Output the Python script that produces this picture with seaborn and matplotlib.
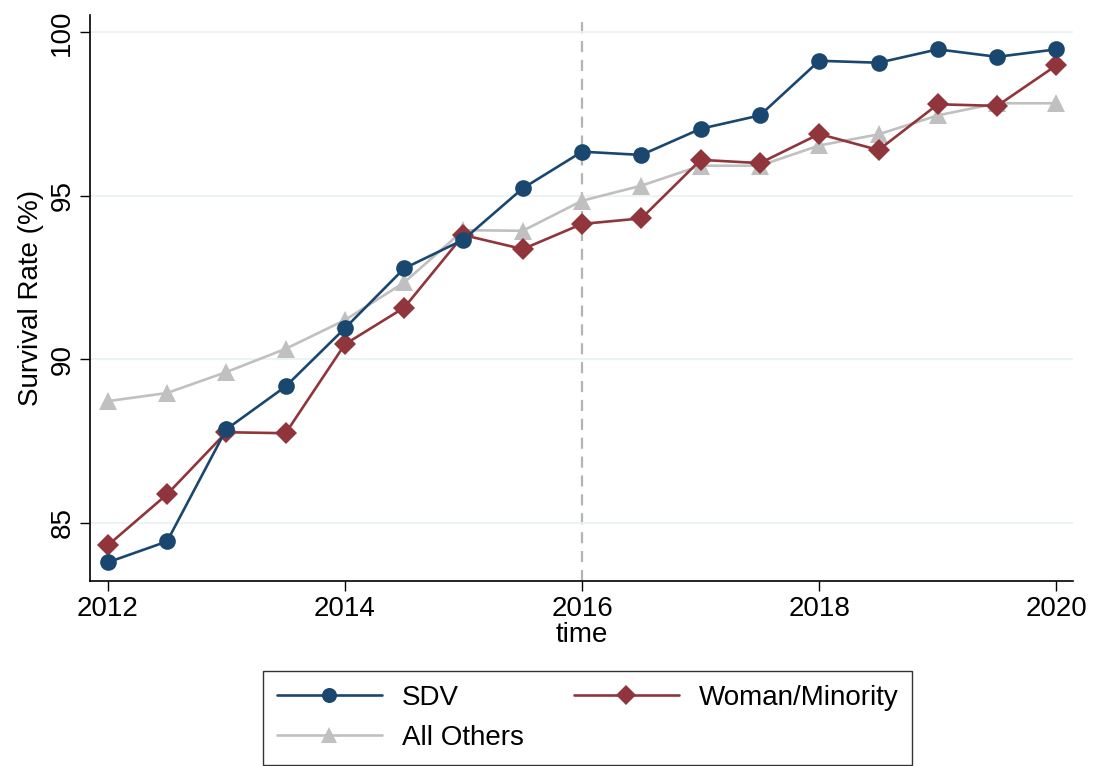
import numpy as np
import pandas as pd
import matplotlib
matplotlib.use("Agg")
import matplotlib.pyplot as plt
import seaborn as sns

# values
time = [2012, 2012.5, 2013, 2013.5, 2014, 2014.5, 2015, 2015.5, 2016,
        2016.5, 2017, 2017.5, 2018, 2018.5, 2019, 2019.5, 2020]
sdv = [83.79, 84.43, 87.86, 89.17, 90.95, 92.78, 93.66, 95.23, 96.35,
       96.25, 97.05, 97.46, 99.13, 99.07, 99.48, 99.25, 99.48]
woman_minority = [84.31, 85.87, 87.77, 87.74, 90.46, 91.58, 93.80, 93.37, 94.14,
                  94.31, 96.10, 96.00, 96.89, 96.40, 97.80, 97.75, 98.99]
all_others = [88.72, 88.97, 89.61, 90.32, 91.20, 92.35, 93.95, 93.93, 94.85,
              95.31, 95.92, 95.92, 96.54, 96.88, 97.46, 97.83, 97.83]

series_names = ["SDV", "Woman/Minority", "All Others"]
series_colors = ["#1a476f", "#90353b", "#c0c0c0"]
series_markers = ["o", "D", "^"]
series_sizes = [12, 11, 13.5]

sns.set_style("white")
plt.rcParams["font.family"] = ["Liberation Sans", "DejaVu Sans"]
plt.rcParams["text.color"] = "black"
plt.rcParams["axes.labelcolor"] = "black"
plt.rcParams["xtick.color"] = "black"
plt.rcParams["ytick.color"] = "black"

fig = plt.figure(figsize=(10.93, 7.66), dpi=100)
ax = fig.add_axes([0.0823, 0.2415, 0.8994, 0.7385])

# draw all others first so the coloured series sit on top
order = [2, 1, 0]
values = [sdv, woman_minority, all_others]
for i in order:
    sns.lineplot(x=time, y=values[i], ax=ax, color=series_colors[i],
                 marker=series_markers[i], markersize=series_sizes[i],
                 markeredgewidth=0, linewidth=1.9, label=series_names[i])

ax.axvline(2016, color="#b4b4b4", linestyle=(0, (5, 3.5)), linewidth=1.6, zorder=0)

ax.set_xlim(2011.85, 2020.14)
ax.set_ylim(83.22, 100.52)
ax.set_xticks([2012, 2014, 2016, 2018, 2020])
ax.set_yticks([85, 90, 95, 100])
ax.yaxis.grid(True, color="#eaf2f3", linewidth=1.3)
ax.set_axisbelow(True)
ax.tick_params(axis="both", labelsize=20, length=7, width=1, color="black",
               direction="out", bottom=True, left=True)
for lab in ax.get_yticklabels():
    lab.set_rotation(90)
    lab.set_va("center")
for s in ["top", "right"]:
    ax.spines[s].set_visible(False)
for s in ["left", "bottom"]:
    ax.spines[s].set_color("black")
    ax.spines[s].set_linewidth(1.2)
ax.set_xlabel("time", fontsize=20, labelpad=0)
ax.set_ylabel("Survival Rate (%)", fontsize=20, labelpad=4)

h, l = ax.get_legend_handles_labels()
hmap = dict(zip(l, h))
ax.get_legend().remove()
# column-major fill: SDV / All Others in column 1, Woman/Minority in column 2
leg_order = ["SDV", "All Others", "Woman/Minority"]
leg = fig.legend([hmap[n] for n in leg_order], leg_order,
                 loc="lower center", bbox_to_anchor=(0.5375, 0.0), ncol=2,
                 fontsize=20, frameon=True, fancybox=False, edgecolor="black",
                 handlelength=3.8, columnspacing=1.8, markerscale=0.9,
                 borderpad=0.5, labelspacing=0.5, handletextpad=0.7,
                 borderaxespad=0.05)
leg.get_frame().set_linewidth(1.0)

fig.savefig("out.png", dpi=100)
